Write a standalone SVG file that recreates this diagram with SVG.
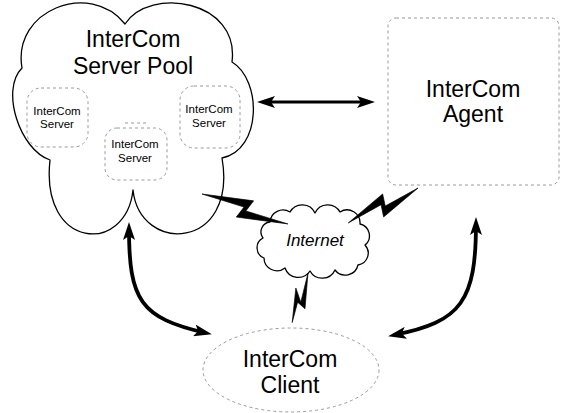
<svg xmlns="http://www.w3.org/2000/svg" width="567" height="413" viewBox="0 0 567 413">
<style>
  text { font-family: "Liberation Sans", Arial, sans-serif; fill: #000; text-anchor: middle; }
  .big { font-size: 23px; }
  .small { font-size: 11.5px; }
  .net { font-size: 17px; font-style: italic; }
  .faint { fill: none; stroke: #9a9a9a; stroke-width: 1; stroke-dasharray: 3 3; }
  .cloud { fill: #fff; stroke: #000; stroke-width: 1.3; stroke-linejoin: round; }
  .conn { fill: none; stroke: #000; stroke-linecap: butt; }
  .bolt { fill: #000; stroke: #000; stroke-width: 0.6; stroke-linejoin: round; }
</style>
<defs>
  <marker id="ah" viewBox="0 0 18 12" refX="12" refY="6" markerWidth="18" markerHeight="12" markerUnits="userSpaceOnUse" orient="auto-start-reverse">
    <path d="M0,0 L18,6 L0,12 L4,6 Z" fill="#000"/>
  </marker>
</defs>
<rect width="567" height="413" fill="#fff"/>

<g id="server-pool">
  <path class="cloud" d="M22,68 C12,10 90,-20 125,24 C150,-14 240,0 232,62 C262,80 262,150 222,158 C238,250 140,255 133,190 C126,255 40,250 50,160 C20,150 0,90 22,68 Z"/>
  <text class="big" x="133" y="47">InterCom</text>
  <text class="big" x="133" y="74">Server Pool</text>
  <g id="server-1">
    <rect class="faint" x="27" y="88" width="61" height="59" rx="14"/>
    <text class="small" x="57" y="115">InterCom</text>
    <text class="small" x="57" y="128">Server</text>
  </g>
  <g id="server-2">
    <rect class="faint" x="105" y="128" width="62" height="52" rx="12"/>
    <text class="small" x="135" y="148">InterCom</text>
    <text class="small" x="135" y="162">Server</text>
  </g>
  <g id="server-3">
    <rect class="faint" x="180" y="86" width="60" height="62" rx="14"/>
    <text class="small" x="209" y="113">InterCom</text>
    <text class="small" x="209" y="127">Server</text>
  </g>
  <line class="faint" x1="125" y1="123" x2="148" y2="123" stroke-dasharray="2 3"/>
</g>

<g id="agent">
  <rect class="faint" x="388" y="18" width="171" height="167" rx="8"/>
  <text class="big" x="473" y="97">InterCom</text>
  <text class="big" x="473" y="122">Agent</text>
</g>

<g id="internet">
  <path class="cloud" d="M270,222 A13,13 0 0 1 290,212 A14,14 0 0 1 315,213 A14,14 0 0 1 340,212 A13,13 0 0 1 360,224 A12,12 0 0 1 365,245 A12,12 0 0 1 358,265 A13,13 0 0 1 335,270 A14,14 0 0 1 310,271 A14,14 0 0 1 285,268 A13,13 0 0 1 264,258 A11,11 0 0 1 263,238 A10,10 0 0 1 270,222 Z"/>
  <text class="net" x="315" y="246">Internet</text>
</g>

<g id="client">
  <ellipse class="faint" cx="291" cy="370" rx="88" ry="42"/>
  <text class="big" x="290" y="367">InterCom</text>
  <text class="big" x="290" y="393">Client</text>
</g>

<g id="connectors">
  <line class="conn" x1="263" y1="102" x2="369" y2="102" stroke-width="3" marker-start="url(#ah)" marker-end="url(#ah)"/>
  <path class="conn" d="M129,228 C129,300 140,318 206,333" stroke-width="3.8" marker-start="url(#ah)" marker-end="url(#ah)"/>
  <path class="conn" d="M476,223 C476,300 462,322 394,335" stroke-width="3.8" marker-start="url(#ah)" marker-end="url(#ah)"/>
  <polygon class="bolt" points="0,0 51,-10.5 47,1.6 91,0 40,10.5 44,-1.5" transform="translate(202,194) rotate(19.2)"/>
  <polygon class="bolt" points="0,0 43.7,-10.5 40.5,1.6 78,0 34.3,10.5 37.4,-1.5" transform="translate(418,188) rotate(153.4)"/>
  <polygon class="bolt" points="0,0 35,-8 31,1 52,0 18,7 30,-2" transform="translate(308,273) rotate(107.7)"/>
</g>
</svg>
